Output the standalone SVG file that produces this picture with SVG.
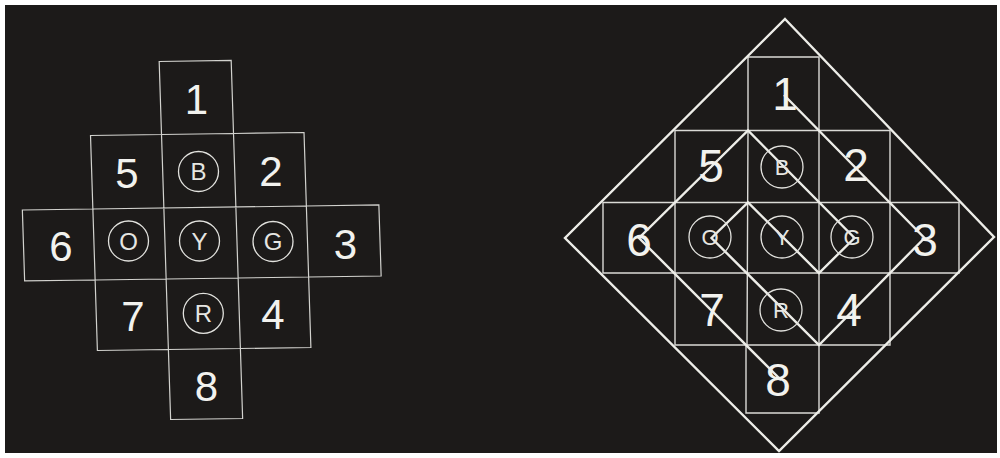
<svg xmlns="http://www.w3.org/2000/svg" width="1000" height="458" viewBox="0 0 1000 458">
<style>
.bg{fill:#1c1a19}
.grid{fill:none;stroke:#d2d2ce;stroke-width:1.2}
.gridR{fill:none;stroke:#dadad6;stroke-width:1.4}
.heavy{fill:none;stroke:#ededE8;stroke-width:2.4;stroke-linejoin:miter}
.ring{fill:none;stroke:#e2e2de;stroke-width:1.3}
.num{font-family:"Liberation Sans",Arial,sans-serif;fill:#f2f2ee;text-anchor:middle}
.nL{font-size:42px}
.nR{font-size:46px}
.let{font-family:"Liberation Sans",Arial,sans-serif;fill:#e6e6e2;text-anchor:middle}
.lL{font-size:24px}
.lR{font-size:22px}
</style>
<rect x="0" y="0" width="1000" height="458" fill="#ffffff"/>
<rect class="bg" x="5" y="5" width="992" height="448"/>

<!-- LEFT FIGURE -->
<g id="left-grid" transform="translate(200,243) matrix(1 -0.014 0.032 1 0 0) translate(-200,-243)">
  <polygon class="grid" points="165,61 237,61 237,134 307.5,134 307.5,207.5 380,207.5 380,278.5 307.5,278.5 307.5,349 237,349 237,419 165,419 165,349 94,349 94,278.5 23.5,278.5 23.5,207.5 94,207.5 94,134 165,134"/>
  <path class="grid" d="M165,134V349 M237,134V349 M94,207.5V278.5 M307.5,207.5V278.5 M165,134H237 M94,207.5H307.5 M94,278.5H307.5 M165,349H237"/>
</g>
<g id="L-1"><text class="num nL" x="196.5" y="114">1</text></g>
<g id="L-5"><text class="num nL" x="127" y="188">5</text></g>
<g id="L-B"><circle class="ring" cx="198.5" cy="171.5" r="20"/><text class="let lL" x="198.5" y="180">B</text></g>
<g id="L-2"><text class="num nL" x="271" y="186">2</text></g>
<g id="L-6"><text class="num nL" x="61" y="261">6</text></g>
<g id="L-O"><circle class="ring" cx="128.5" cy="241" r="20"/><text class="let lL" x="128.5" y="249.5">O</text></g>
<g id="L-Y"><circle class="ring" cx="199.5" cy="241" r="20"/><text class="let lL" x="199.5" y="249.5">Y</text></g>
<g id="L-G"><circle class="ring" cx="273" cy="241.5" r="20"/><text class="let lL" x="273" y="250">G</text></g>
<g id="L-3"><text class="num nL" x="345.5" y="258.5">3</text></g>
<g id="L-7"><text class="num nL" x="133" y="331">7</text></g>
<g id="L-R"><circle class="ring" cx="203.3" cy="313.3" r="20"/><text class="let lL" x="203.3" y="321.8">R</text></g>
<g id="L-4"><text class="num nL" x="273" y="329">4</text></g>
<g id="L-8"><text class="num nL" x="206.5" y="401">8</text></g>

<!-- RIGHT FIGURE -->
<g id="right-grid">
  <polygon class="gridR" points="748,57 819,57 819,130.5 890,130.5 890,202.5 959,202.5 959,273 890,273 890,345 819,345 819,413 746,413 746,345 675,345 675,273 603,273 603,202.5 675,202.5 675,130.5 748,130.5"/>
  <path class="gridR" d="M748,130.5L747,345 M819,130.5V345 M675,202.5V273 M890,202.5V273 M748,130.5H819 M675,202.5H890 M675,273H890 M747,345H819"/>
</g>
<g id="right-diamond">
  <polygon class="heavy" points="785,19 994,237 779,451 565,238"/>
</g>
<g id="connectors">
  <polyline class="heavy" points="784,95 924.5,238 819,345 711.5,238 748,202.5 819,273 854.5,238 748,130.5 639,238 781,380"/>
</g>
<g id="R-1"><text class="num nR" x="785" y="110">1</text></g>
<g id="R-5"><text class="num nR" x="711" y="182">5</text></g>
<g id="R-B"><circle class="ring" cx="782" cy="167" r="21"/><text class="let lR" x="782" y="175">B</text></g>
<g id="R-2"><text class="num nR" x="856" y="181">2</text></g>
<g id="R-6"><text class="num nR" x="639" y="256">6</text></g>
<g id="R-O"><circle class="ring" cx="710" cy="237" r="21"/><text class="let lR" x="710" y="245">O</text></g>
<g id="R-Y"><circle class="ring" cx="782" cy="237" r="21"/><text class="let lR" x="782" y="245">Y</text></g>
<g id="R-G"><circle class="ring" cx="852" cy="237" r="21"/><text class="let lR" x="852" y="245">G</text></g>
<g id="R-3"><text class="num nR" x="925" y="256">3</text></g>
<g id="R-7"><text class="num nR" x="712" y="326">7</text></g>
<g id="R-R"><circle class="ring" cx="781" cy="310" r="21"/><text class="let lR" x="781" y="318">R</text></g>
<g id="R-4"><text class="num nR" x="849" y="326">4</text></g>
<g id="R-8"><text class="num nR" x="778" y="396">8</text></g>
</svg>
